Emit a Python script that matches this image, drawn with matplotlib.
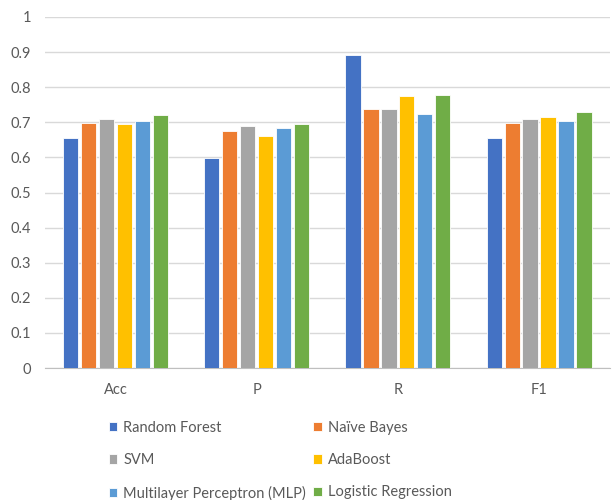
import numpy as np
import matplotlib
matplotlib.use("Agg")
import matplotlib.pyplot as plt

plt.rcParams["font.family"] = ["Lato", "DejaVu Sans"]

# ===============================
# DATA
# ===============================
metrics = ["Acc", "P", "R", "F1"]
models = ["Random Forest", "Naïve Bayes", "SVM", "AdaBoost",
          "Multilayer Perceptron (MLP)", "Logistic Regression"]

random_forest = [0.655, 0.598, 0.892, 0.654]
naive_bayes = [0.698, 0.675, 0.739, 0.698]
svm = [0.709, 0.690, 0.739, 0.710]
adaboost = [0.695, 0.661, 0.775, 0.714]
mlp = [0.704, 0.684, 0.723, 0.703]
logistic_regression = [0.721, 0.695, 0.779, 0.730]

series = [random_forest, naive_bayes, svm, adaboost, mlp, logistic_regression]
colors = ["#4472C4", "#ED7D31", "#A5A5A5", "#FFC000", "#5B9BD5", "#70AD47"]

# ===============================
# PLOT
# ===============================
fig = plt.figure(figsize=(6.14, 5.0), dpi=100)
ax = fig.add_axes([0.073, 0.264, 0.92, 0.702])

x = np.arange(len(metrics))
slot = 0.127
bar_w = 0.108
bars = []
for i, (vals, col) in enumerate(zip(series, colors)):
    off = (i - 2.5) * slot
    b = ax.bar(x + off, vals, width=bar_w, color=col,
               edgecolor="white", linewidth=0.6, zorder=3)
    bars.append(b)

ax.set_xlim(-0.5, len(metrics) - 0.5)
ax.set_ylim(0, 1)
ax.set_yticks(np.arange(0, 1.01, 0.1))
ax.set_yticklabels(["0", "0.1", "0.2", "0.3", "0.4", "0.5",
                    "0.6", "0.7", "0.8", "0.9", "1"])
ax.set_xticks(x)
ax.set_xticklabels(metrics)

ax.grid(axis="y", color="#d9d9d9", linewidth=1.0, zorder=0)
for s in ["top", "right", "left"]:
    ax.spines[s].set_visible(False)
ax.spines["bottom"].set_color("#bfbfbf")
ax.tick_params(axis="both", length=0, colors="#595959", labelsize=10.5)
ax.tick_params(axis="x", pad=11)
ax.tick_params(axis="y", pad=10)

# legend filled row-wise: two columns
order = [0, 2, 4, 1, 3, 5]
leg = fig.legend([bars[k] for k in order], [models[k] for k in order],
                 ncol=2, loc="upper left", bbox_to_anchor=(0.177, 0.158),
                 frameon=False, fontsize=10.5, handlelength=0.6,
                 handleheight=0.6, handletextpad=0.4, columnspacing=0.5,
                 labelspacing=1.25, borderaxespad=0, borderpad=0)
for t in leg.get_texts():
    t.set_color("#595959")

fig.savefig("out.png", dpi=100)
